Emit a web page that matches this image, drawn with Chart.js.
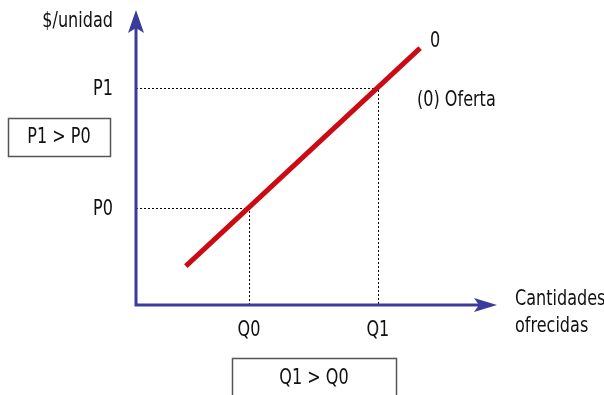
<!DOCTYPE html>
<html>
<head>
<meta charset="utf-8">
<script src="https://cdn.jsdelivr.net/npm/chart.js@4"></script>
<style>
  html, body { margin: 0; padding: 0; background: #fff; }
  canvas { display: block; }
</style>
</head>
<body>
<canvas id="ofertaChart" width="604" height="395"></canvas>
<script>
// valores
const quantityLabels = ["Q0", "Q1"];
const quantities = [3.13, 6.7];
const priceLabels = ["P0", "P1"];
const prices = [3.29, 7.36];
const supplyX = [1.38, 7.87];
const supplyY = [1.32, 8.71];

const FONT = '21px "DejaVu Sans Condensed", "DejaVu Sans", sans-serif';
const AXIS_COLOR = "#3b3b9b";

// texto estrecho, como la fuente condensada del original
function narrowText(ctx, str, x, y, align) {
    ctx.save();
    ctx.translate(x, y);
    ctx.scale(0.85, 1);
    ctx.textAlign = align;
    ctx.fillText(str, 0, 0);
    ctx.restore();
}

const ofertaPlugin = {
    id: "oferta",
    beforeDatasetsDraw(chart) {
        const ctx = chart.ctx;
        const x = chart.scales.x;
        const y = chart.scales.y;
        ctx.save();
        ctx.strokeStyle = "#000";
        ctx.lineWidth = 1;
        ctx.setLineDash([2, 2]);
        for (let i = 0; i < prices.length; i++) {
            const px = Math.round(x.getPixelForValue(quantities[i])) + 0.5;
            const py = Math.round(y.getPixelForValue(prices[i])) + 0.5;
            ctx.beginPath();
            ctx.moveTo(x.getPixelForValue(0), py);
            ctx.lineTo(px, py);
            ctx.lineTo(px, y.getPixelForValue(0));
            ctx.stroke();
        }
        ctx.restore();
    },
    afterDatasetsDraw(chart) {
        const ctx = chart.ctx;
        const x = chart.scales.x;
        const y = chart.scales.y;
        const x0 = x.getPixelForValue(0);
        const y0 = y.getPixelForValue(0);
        const xEnd = x.getPixelForValue(x.max);
        const yEnd = y.getPixelForValue(y.max);

        ctx.save();
        // ejes
        ctx.strokeStyle = AXIS_COLOR;
        ctx.fillStyle = AXIS_COLOR;
        ctx.lineWidth = 3;
        ctx.beginPath();
        ctx.moveTo(x0, yEnd + 15);
        ctx.lineTo(x0, y0);
        ctx.lineTo(xEnd - 15, y0);
        ctx.stroke();
        // flechas
        ctx.beginPath();
        ctx.moveTo(x0, yEnd);
        ctx.lineTo(x0 - 8, yEnd + 23);
        ctx.lineTo(x0, yEnd + 18);
        ctx.lineTo(x0 + 8, yEnd + 23);
        ctx.closePath();
        ctx.fill();
        ctx.beginPath();
        ctx.moveTo(xEnd, y0);
        ctx.lineTo(xEnd - 23, y0 - 7);
        ctx.lineTo(xEnd - 18, y0);
        ctx.lineTo(xEnd - 23, y0 + 7);
        ctx.closePath();
        ctx.fill();

        // textos
        ctx.fillStyle = "#111";
        ctx.font = FONT;
        ctx.textBaseline = "alphabetic";
        narrowText(ctx, "$/unidad", 113, 27, "right");
        for (let i = 0; i < prices.length; i++) {
            narrowText(ctx, priceLabels[i], 113, y.getPixelForValue(prices[i]) + 7, "right");
        }
        for (let i = 0; i < quantities.length; i++) {
            narrowText(ctx, quantityLabels[i], x.getPixelForValue(quantities[i]), 336, "center");
        }
        narrowText(ctx, "0", 430, 47, "left");
        narrowText(ctx, "(0) Oferta", 417, 106, "left");
        narrowText(ctx, "Cantidades", 515, 305, "left");
        narrowText(ctx, "ofrecidas", 515, 332, "left");

        // recuadros
        ctx.strokeStyle = "#555";
        ctx.lineWidth = 1.5;
        ctx.strokeRect(8.5, 118.5, 102, 38);
        ctx.strokeRect(232.5, 358.5, 164, 50);
        narrowText(ctx, "P1 > P0", 59, 143, "center");
        narrowText(ctx, "Q1 > Q0", 314, 384, "center");
        ctx.restore();
    }
};

new Chart(document.getElementById("ofertaChart"), {
    type: "scatter",
    data: {
        datasets: [{
            label: "Oferta",
            data: supplyX.map((v, i) => ({ x: v, y: supplyY[i] })),
            showLine: true,
            borderColor: "#cc0a14",
            borderWidth: 5,
            pointRadius: 0,
            borderCapStyle: "butt"
        }]
    },
    options: {
        responsive: false,
        animation: false,
        layout: { padding: { left: 136, right: 107, top: 10, bottom: 90 } },
        plugins: { legend: { display: false }, tooltip: { enabled: false } },
        scales: {
            x: { type: "linear", min: 0, max: 10, display: false },
            y: { type: "linear", min: 0, max: 10, display: false }
        }
    },
    plugins: [ofertaPlugin]
});
</script>
</body>
</html>
